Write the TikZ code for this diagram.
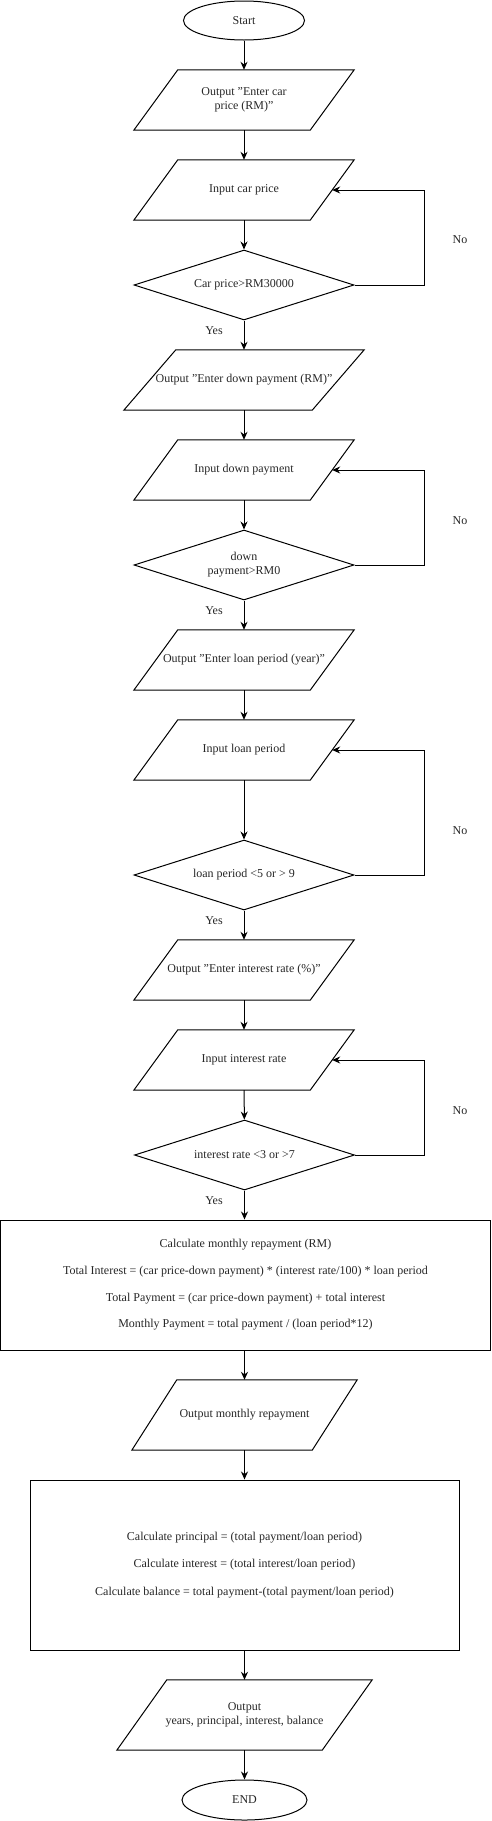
\documentclass[tikz,border=0pt]{standalone}
\usepackage{fontspec}
\setmainfont{Liberation Serif}
\usetikzlibrary{shapes.geometric,arrows.meta,calc}
\newcommand{\iopath}[2]{\draw[shp] ($(#1.north west)+(#2,0)$) -- (#1.north east) -- ($(#1.south east)-(#2,0)$) -- (#1.south west) -- cycle;}
\newcommand{\sq}{\char34\relax}
\begin{document}
\begin{tikzpicture}[x=1pt,y=-1pt,
  every node/.style={font=\fontsize{12}{14}\selectfont, text=black!85},
  shp/.style={draw=black, line width=1pt},
  term/.style={shp, ellipse, inner sep=0pt},
  dec/.style={shp, diamond, aspect=3.14, inner sep=0pt, minimum width=220pt, minimum height=70pt, align=center},
  procbox/.style={shp, rectangle, inner sep=0pt, align=center},
  io/.style={rectangle, inner sep=0pt, align=center, minimum height=60pt, minimum width=220pt},
  lbl/.style={inner sep=0pt},
  arr/.style={draw=black, line width=1pt, -{Stealth[length=8pt,width=7pt]}},
]
\useasboundingbox (0,0) rectangle (491,1821);

% terminals
\node[term, minimum width=121pt, minimum height=39pt] (start) at (244,20.5) {Start};
\node[term, minimum width=125pt, minimum height=40pt] (end) at (244.5,1800) {END};

% block 1
\node[io] (o1) at (244,100) {Output \sq Enter car\\price (RM)\sq};
\iopath{o1}{44}
\node[io] (i1) at (244,190) {Input car price};
\iopath{i1}{44}
\node[dec] (d1) at (244,285) {Car price>RM30000};

% block 2
\node[io, minimum width=240pt] (o2) at (244,380) {Output \sq Enter down payment (RM)\sq};
\iopath{o2}{52}
\node[io] (i2) at (244,470) {Input down payment};
\iopath{i2}{44}
\node[dec] (d2) at (244,565) {down\\payment>RM0};

% block 3
\node[io] (o3) at (244,660) {Output \sq Enter loan period (year)\sq};
\iopath{o3}{44}
\node[io] (i3) at (244,750) {Input loan period};
\iopath{i3}{44}
\node[dec] (d3) at (244,875) {loan period <5 or > 9};

% block 4
\node[io] (o4) at (244,970) {Output \sq Enter interest rate (\%)\sq};
\iopath{o4}{44}
\node[io] (i4) at (244,1060) {Input interest rate};
\iopath{i4}{44}
\node[dec] (d4) at (244.5,1155) {interest rate <3 or >7};

% calculation 1
\node[procbox, minimum width=489.5pt, minimum height=130pt, font=\fontsize{12}{26.7}\selectfont] (c1) at (245.5,1285)
  {Calculate monthly repayment (RM)\\Total Interest = (car price-down payment) * (interest rate/100) * loan period\\Total Payment = (car price-down payment) + total interest\\Monthly Payment = total payment / (loan period*12)};

\node[io, minimum width=225pt, minimum height=70pt] (o5) at (244.5,1415) {Output monthly repayment};
\iopath{o5}{45}

% calculation 2
\node[procbox, minimum width=429pt, minimum height=170pt, font=\fontsize{12}{27.5}\selectfont] (c2) at (244.5,1565)
  {Calculate principal = (total payment/loan period)\\Calculate interest = (total interest/loan period)\\Calculate balance = total payment-(total payment/loan period)};

\node[io, minimum width=255pt, minimum height=70pt] (o6) at (244.5,1715) {Output\\years, principal, interest, balance};
\iopath{o6}{50}

% loop entry points
\coordinate (i1r) at ($(i1.east)-(22,0)$);
\coordinate (i2r) at ($(i2.east)-(22,0)$);
\coordinate (i3r) at ($(i3.east)-(22,0)$);
\coordinate (i4r) at ($(i4.east)-(22,0)$);
\coordinate (r1) at (424,285);
\coordinate (r2) at (424,565);
\coordinate (r3) at (424,875);
\coordinate (r4) at (424,1155);

% main flow
\draw[arr] (start) -- (o1);
\draw[arr] (o1) -- (i1);
\draw[arr] (i1) -- (d1);
\draw[arr] (d1) -- (o2);
\draw[arr] (o2) -- (i2);
\draw[arr] (i2) -- (d2);
\draw[arr] (d2) -- (o3);
\draw[arr] (o3) -- (i3);
\draw[arr] (i3) -- (d3);
\draw[arr] (d3) -- (o4);
\draw[arr] (o4) -- (i4);
\draw[arr] (i4) -- (d4);
\draw[arr] (d4.south) -- (d4.south |- c1.north);
\draw[arr] (c1.south -| o5.north) -- (o5.north);
\draw[arr] (o5) -- (c2);
\draw[arr] (c2) -- (o6);
\draw[arr] (o6) -- (end);

% loops
\draw[arr] (d1.east) -- (r1) |- (i1r);
\draw[arr] (d2.east) -- (r2) |- (i2r);
\draw[arr] (d3.east) -- (r3) |- (i3r);
\draw[arr] (d4.east) -- (r4) |- (i4r);

% labels
\node[lbl] (y1) at (214,331) {Yes};
\node[lbl] (y2) at (214,611) {Yes};
\node[lbl] (y3) at (214,921) {Yes};
\node[lbl] (y4) at (214,1201) {Yes};
\node[lbl] (n1) at (460,240) {No};
\node[lbl] (n2) at (460,521) {No};
\node[lbl] (n3) at (460,831) {No};
\node[lbl] (n4) at (460,1111) {No};
\end{tikzpicture}
\end{document}
